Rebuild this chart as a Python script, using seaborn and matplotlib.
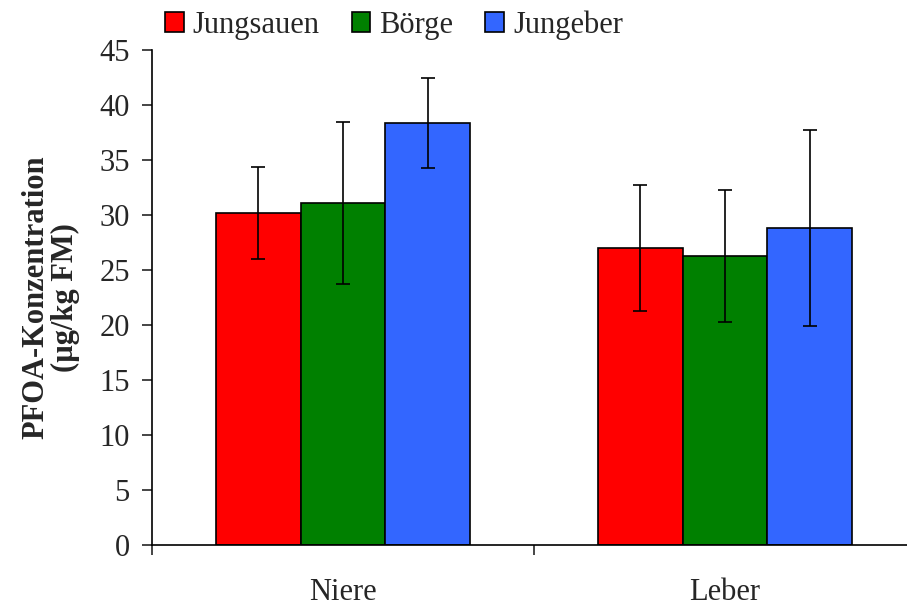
import matplotlib
matplotlib.use("Agg")
import matplotlib.pyplot as plt
import seaborn as sns
import pandas as pd
from matplotlib.patches import Patch

organs = ["Niere", "Leber"]
groups = ["Jungsauen", "Börge", "Jungeber"]
jungsauen = [30.2, 27.0]
boerge = [31.1, 26.3]
jungeber = [38.4, 28.8]
err_jungsauen = [4.2, 5.7]
err_boerge = [7.4, 6.0]
err_jungeber = [4.1, 8.9]
colors = ["#FF0000", "#008000", "#3366FF"]
yticks = [0, 5, 10, 15, 20, 25, 30, 35, 40, 45]

means = [jungsauen, boerge, jungeber]
errs = [err_jungsauen, err_boerge, err_jungeber]

rows = []
for g, m in zip(groups, means):
    for o, v in zip(organs, m):
        rows.append({"Organ": o, "Gruppe": g, "Wert": v})
df = pd.DataFrame(rows)

sns.set_style("white")
plt.rcParams["font.family"] = ["Liberation Serif", "DejaVu Serif"]
FS = 22

fig = plt.figure(figsize=(9.07, 6.06), dpi=100)
W, H = 907, 606
ax = fig.add_axes([152 / W, (H - 545) / H, (W - 152) / W, (545 - 50) / H])

sns.barplot(data=df, x="Organ", y="Wert", hue="Gruppe", order=organs,
            hue_order=groups, palette=colors, width=0.666, edgecolor="black",
            linewidth=1.2, errorbar=None, legend=False, ax=ax, saturation=1)

for cont, e in zip(ax.containers, errs):
    xs = [b.get_x() + b.get_width() / 2 for b in cont]
    hs = [b.get_height() for b in cont]
    ax.errorbar(xs, hs, yerr=e, fmt="none", ecolor="black", elinewidth=1.2,
                capsize=5, capthick=1.2)

ax.set_yticks(yticks)
ax.set_xticks([0, 1])
ax.set_xticklabels(organs, fontsize=FS)
ax.set_xticks([-0.5, 0.5, 1.5], minor=True)
ax.set_xlim(-0.5, -0.5 + (W - 152) / 382)
ax.set_ylim(0, 45)
ax.tick_params(axis="x", which="major", length=0, pad=24)
ax.tick_params(axis="x", which="minor", length=7, width=1.2, direction="out", bottom=True)
ax.tick_params(axis="y", length=7, width=1.2, direction="out", left=True, labelsize=FS, pad=9)

for s in ["top", "right"]:
    ax.spines[s].set_visible(False)
for s in ["left", "bottom"]:
    ax.spines[s].set_color("black")
    ax.spines[s].set_linewidth(1.2)

ax.set_xlabel("")
ax.set_ylabel("PFOA-Konzentration\n(µg/kg FM)", fontsize=FS, fontweight="bold",
              linespacing=1.0, labelpad=14)

handles = [Patch(facecolor=c, edgecolor="black", linewidth=1.2) for c in colors]
fig.legend(handles, groups, loc="upper left", bbox_to_anchor=(153 / W, 1.003),
           ncol=3, frameon=False, fontsize=FS, handlelength=0.6, handleheight=0.6,
           handletextpad=0.3, columnspacing=1.05, borderaxespad=0)

fig.savefig("out.png", dpi=100)
